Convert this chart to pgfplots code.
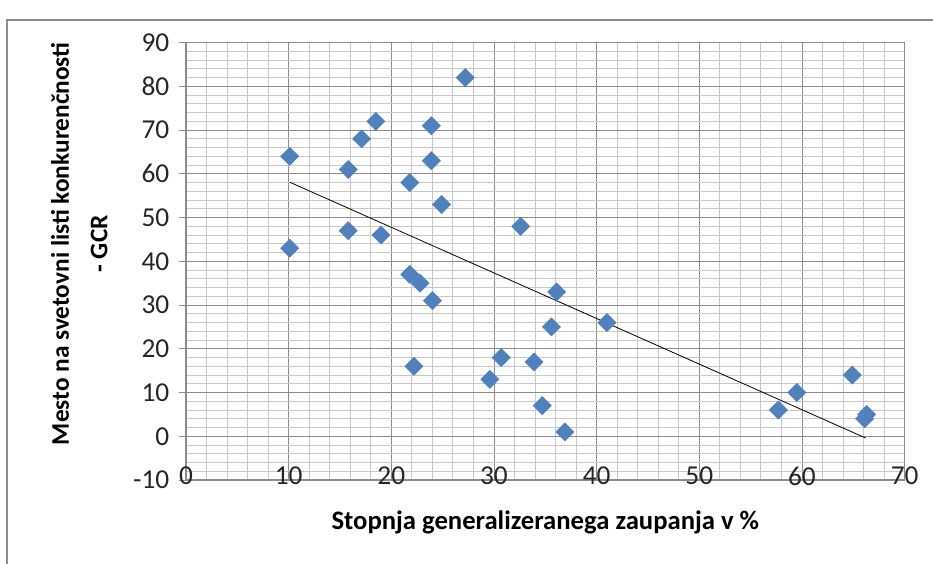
\documentclass[border=0pt]{standalone}
\usepackage{pgfplots}
\pgfplotsset{compat=1.18}
\usepackage{fontspec}
\setmainfont{Carlito}
\definecolor{ptblue}{HTML}{4F81BD}
\definecolor{majgrid}{HTML}{8C8C8C}
\definecolor{mingrid}{HTML}{C8C8C8}
\begin{document}
\begin{tikzpicture}[x=0.75pt,y=0.75pt]
% picture frame (1 unit = 1 px of the reference, origin at axis origin)
\useasboundingbox (-186,-84) rectangle (747,480);
\draw[color=majgrid, line width=0.8pt] (-179,-84) -- (-179,460) -- (747,460);
\begin{axis}[
  at={(0,0)}, anchor=south west,
  scale only axis, width=539pt, height=328pt,
  xmin=0, xmax=70, ymin=-10, ymax=90,
  xtick={0,10,...,70}, ytick={-10,0,...,90},
  minor x tick num=4, minor y tick num=4,
  grid=both,
  major grid style={color=majgrid, line width=0.7pt},
  minor grid style={color=mingrid, line width=0.7pt},
  axis line style={color=majgrid, line width=0.8pt},
  tick style={color=majgrid, line width=0.7pt},
  major tick length=5pt, minor tick length=0pt,
  tick pos=left, tick align=outside,
  xtick style={draw=none},
  /pgf/number format/assume math mode=true,
  ticklabel style={font=\fontsize{20.5}{22}\selectfont, color=black!85},
  xticklabel style={anchor=center, yshift=8pt},
  yticklabel style={anchor=east, xshift=-4pt},
  xlabel={Stopnja generalizeranega zaupanja v \%},
  ylabel={Mesto na svetovni listi konkurenčnosti\\- GCR},
  xlabel style={font=\bfseries\fontsize{20}{29}\selectfont,
    at={(axis description cs:0.5,0)}, anchor=center, yshift=-32pt},
  ylabel style={font=\bfseries\fontsize{19}{29}\selectfont,
    at={(axis description cs:0,0.54)}, anchor=center, yshift=80pt, align=center},
]
\addplot[only marks, mark=square*, mark size=4.8pt,
  mark options={rotate=45, fill=ptblue, draw=ptblue}] coordinates {
  (10.1,64) (10.1,43) (15.8,61) (15.8,47) (17.1,68) (18.5,72) (19.0,46)
  (21.8,58) (21.8,37) (22.8,35) (22.2,16) (23.9,71) (23.9,63) (24.0,31)
  (24.9,53) (27.2,82) (29.6,13) (30.7,18) (32.6,48) (33.9,17) (34.7,7)
  (35.6,25) (36.1,33) (36.9,1) (41.0,26) (57.7,6) (59.5,10) (64.9,14)
  (66.1,4) (66.3,5)
};
\addplot[black, line width=0.6pt, mark=none] coordinates {
  (10.1,58.1) (66.2,-0.4)
};
\end{axis}
\end{tikzpicture}
\end{document}
